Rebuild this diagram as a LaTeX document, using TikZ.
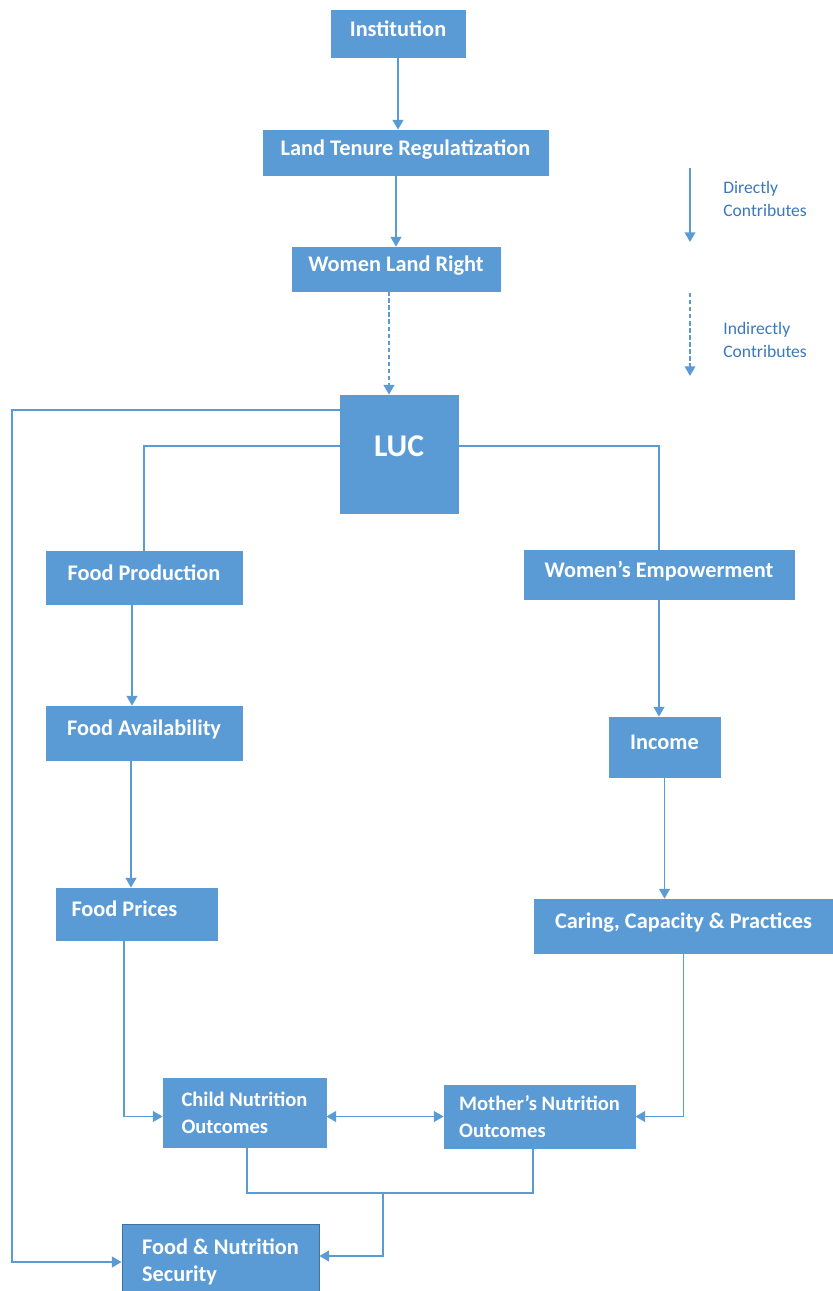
\documentclass[tikz,border=0pt]{standalone}
\usepackage{fontspec}
\setmainfont{Carlito}
\usepackage{xcolor}
\usetikzlibrary{arrows.meta}
\definecolor{boxblue}{HTML}{5B9BD5}
\definecolor{edgeblue}{HTML}{41719C}
\definecolor{keyblue}{HTML}{3A78BE}
\tikzstyle{boxes} = [rectangle, fill=boxblue, draw=boxblue, inner sep=0pt, text=white,
font=\bfseries\fontsize{12.7}{15.3}\selectfont, text height=9pt, text depth=6pt]
\tikzstyle{tboxes} = [rectangle, fill=boxblue, draw=boxblue, inner sep=0pt, text=white,
align=left, font=\bfseries\fontsize{11.7}{15.3}\selectfont]
\tikzstyle{keytext} = [inner sep=0pt, align=left, text=keyblue, font=\fontsize{10}{13.6}\selectfont]
\tikzstyle{link} = [boxblue, line width=1.1pt]
\tikzstyle{arrow} = [boxblue, line width=1.1pt, -{Triangle[width=6pt,length=5.5pt]}]

\begin{document}
\begin{tikzpicture}
        \clip (0,0) rectangle (16.66,-25.82);

        \draw (7.96,-0.67) node[boxes, minimum width=2.68cm, minimum height=0.94cm] (inst) {Institution};
        \draw (8.11,-3.05) node[boxes, minimum width=5.7cm, minimum height=0.9cm] (ltr) {Land Tenure Regulatization};
        \draw (7.92,-5.38) node[boxes, minimum width=4.16cm, minimum height=0.88cm] (wlr) {Women Land Right};
        \draw (7.98,-9.08) node[boxes, minimum width=2.36cm, minimum height=2.36cm,
        font=\bfseries\fontsize{18}{22}\selectfont] (luc) {LUC};

        \draw (2.88,-11.55) node[boxes, minimum width=3.92cm, minimum height=1.06cm] (fprod) {Food Production};
        \draw (2.88,-14.66) node[boxes, minimum width=3.92cm, minimum height=1.08cm] (favail) {Food Availability};
        \draw (2.73,-18.28) node[boxes, minimum width=3.22cm, minimum height=1.04cm,
        align=flush left, text width=2.6cm] (fprice) {Food Prices};

        \draw (13.18,-11.49) node[boxes, minimum width=5.4cm, minimum height=0.98cm] (wemp) {Women’s Empowerment};
        \draw (13.29,-14.94) node[boxes, minimum width=2.22cm, minimum height=1.2cm] (income) {Income};
        \draw (13.67,-18.52) node[boxes, minimum width=5.98cm, minimum height=1.08cm] (caring) {Caring, Capacity \& Practices};

        \draw (4.89,-22.25) node[tboxes, minimum width=3.26cm, minimum height=1.38cm] (child) {Child Nutrition\\Outcomes};
        \draw (10.79,-22.33) node[tboxes, minimum width=3.82cm, minimum height=1.26cm] (mother) {Mother’s Nutrition\\Outcomes};
        \draw (4.41,-25.24) node[tboxes, draw=edgeblue, minimum width=3.94cm, minimum height=1.52cm,
        font=\bfseries\fontsize{12.7}{15.3}\selectfont] (fns) {Food \& Nutrition\\Security};

        % Key
        \coordinate (d1) at (13.8,-3.36);
        \coordinate (d2) at (13.8,-4.84);
        \coordinate (i1) at (13.8,-5.86);
        \coordinate (i2) at (13.8,-7.52);
        \draw (14.46,-3.98) node[keytext, anchor=west] (dkey) {Directly\\Contributes};
        \draw (14.46,-6.80) node[keytext, anchor=west] (ikey) {Indirectly\\Contributes};
        \draw[arrow] (d1) -- (d2);
        \draw[arrow, dash pattern=on 2.5pt off 1.5pt] (i1) -- (i2);

        % Arrows
        \draw[arrow] (inst.south) -- (inst.south |- ltr.north);
        \draw[arrow] (ltr.south -| wlr.north) -- (wlr.north);
        \draw[arrow, dash pattern=on 2.5pt off 1.5pt] ([xshift=-0.14cm]wlr.south) -- ([xshift=-0.14cm]wlr.south |- luc.north);

        \coordinate (edge) at (0.24,-8.2);
        \draw[arrow] ([yshift=-0.3cm]luc.north west) -| (edge |- fns.west) -- (fns.west);

        \draw[link] ([yshift=0.16cm]luc.west) -| (fprod.north);
        \draw[link] ([yshift=0.16cm]luc.east) -| (wemp.north);

        \draw[arrow] ([xshift=-0.24cm]fprod.south) -- ([xshift=-0.24cm]favail.north);
        \draw[arrow] ([xshift=-0.26cm]favail.south) -- ([xshift=-0.26cm]favail.south |- fprice.north);
        \draw[arrow] ([xshift=-0.25cm]fprice.south) |- (fprice.south |- mother.west) -- (child.west |- mother.west);

        \draw[arrow] (wemp.south) -- (wemp.south |- income.north);
        \draw[arrow] (income.south) -- (income.south |- caring.north);
        \draw[arrow] (caring.south) |- (mother.east);

        \draw[arrow, {Triangle[width=6pt,length=5.5pt]}-{Triangle[width=6pt,length=5.5pt]}] (child.east |- mother.west) -- (mother.west);

        \coordinate (join) at (7.66,-23.86);
        \draw[link] ([xshift=0.05cm]child.south) |- (join) -| ([xshift=-0.13cm]mother.south);
        \draw[arrow] (join) |- ([yshift=0.12cm]fns.east);
    \end{tikzpicture}
\end{document}
